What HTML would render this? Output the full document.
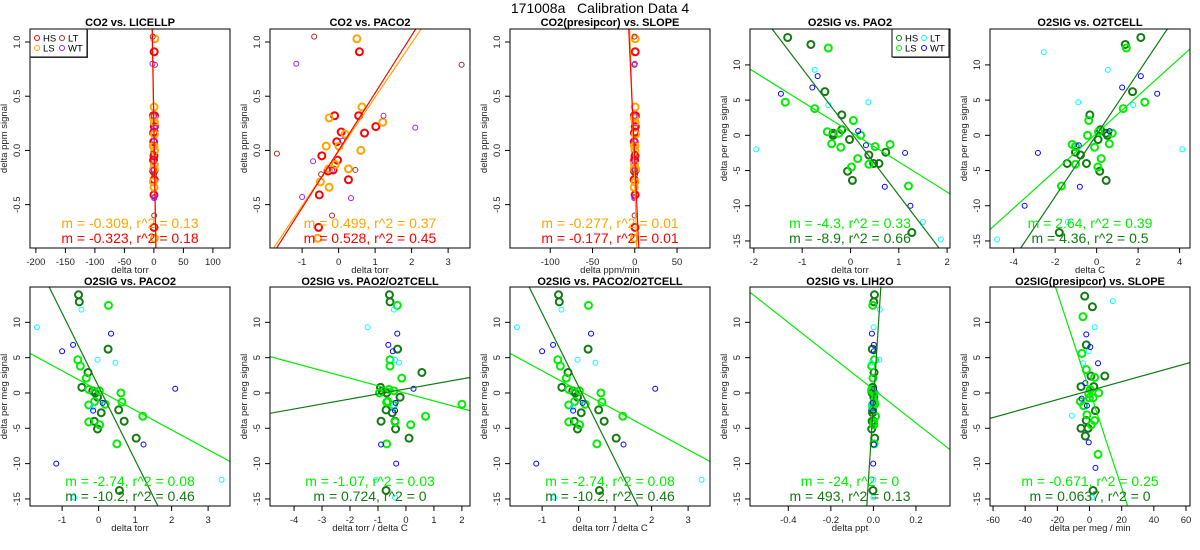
<!DOCTYPE html>
<html><head><meta charset="utf-8"><style>
html,body{margin:0;padding:0;background:#fff;overflow:hidden;width:1200px;height:550px;}
svg{display:block;font-family:"Liberation Sans",sans-serif;}
</style></head><body>
<svg id="chart" width="1200" height="550" viewBox="0 0 1200 550" xmlns="http://www.w3.org/2000/svg">
<rect width="1200" height="550" fill="#fff"/>
<text x="600" y="13" font-size="14" text-anchor="middle" fill="#000" xml:space="preserve">171008a   Calibration Data 4</text>
</svg>
<script>
// ---- CO2 data (shared y values) ----
const co2HSy=[0.91,0.32,0.32,0.17,0.16,0.22,0.08,-0.05,-0.09,-0.27,-0.41,-0.19,-0.18,-0.71];
const co2LSy=[1.03,0.40,0.30,0.15,0.04,0.04,0.00,0.26,-0.17,-0.17,-0.13,-0.29,-0.34,-0.81];
const co2LTy=[1.05,-0.03,-0.22,-0.18,-0.60,0.79];
const co2WTy=[0.80,0.32,0.21,0.09,-0.10,-0.43,-0.44,-0.18];
// panel 1 x (delta torr)
const p1HSx=[0.5,-0.8,1.0,0.3,-0.5,0.8,-0.3,0.2,-0.6,0.4,0.1,-0.4,0.6,0.2];
const p1LSx=[1.5,0.4,-0.6,0.8,-1.0,0.2,1.2,0.9,-0.3,0.5,0.7,-0.8,0.3,0.9];
const p1LTx=[-2.0,-1.2,0.3,-0.5,0.5,1.8];
const p1WTx=[-2.5,0.2,1.2,0.6,-0.4,1.0,0.5,-1.2];
// panel 2 x (delta torr)
const p2HSx=[0.57,-0.11,0.55,0.07,0.71,1.02,-0.05,-0.46,-0.03,0.27,-0.53,-0.29,-0.15,-0.55];
const p2LSx=[0.50,0.64,-0.26,0.18,-0.34,0.01,0.61,1.21,0.27,-0.27,-0.09,-0.50,-0.26,-0.57];
const p2LTx=[-0.67,-1.69,-0.48,0.46,-0.18,3.37];
const p2WTx=[-1.16,1.23,2.10,0.10,-0.70,-1.0,0.34,-0.18];
// panel 3 x (delta ppm/min)
const p3HSx=[0.5,-0.5,0.8,0.2,-0.3,0.6,-0.6,0.3,-0.2,-0.8,0.4,-0.4,0.7,0.3];
const p3LSx=[0.6,0.5,-0.5,0.9,0.3,-0.4,0.2,0.4,-0.6,0.8,-0.2,0.3,-0.7,-0.5];
const p3LTx=[-0.3,0.2,0.4,-0.5,-0.2,-0.4];
const p3WTx=[0.1,-0.3,0.4,0.2,-0.1,-0.4,-0.6,0.3];
// ---- O2 data (shared y values) ----
const o2HSy=[13.9,12.9,6.2,2.9,0.3,0.0,0.8,-0.6,-5.1,-6.4,-2.8,-4.0,-4.0,-2.4,-13.8];
const o2LSy=[12.4,4.7,3.8,0.5,-1.2,-1.7,0.3,2.1,0.0,-1.6,-1.3,-4.5,-3.3,-4.1,-7.2];
const o2LTy=[11.8,9.3,4.3,4.7,-2.0,-12.3,-14.8];
const o2WTy=[5.9,6.8,8.4,0.6,-1.4,-2.5,-7.3,-10.0];
// panel 4 (PAO2)
const p4HSx=[-1.30,-0.82,-0.53,-0.18,-0.36,-0.36,-0.18,-0.02,-0.06,0.04,0.38,0.48,0.59,0.73,1.27];
const p4LSx=[-0.46,-1.35,-0.74,-0.48,-0.39,-0.20,-0.24,0.06,0.21,0.51,0.82,0.02,0.15,0.38,1.20];
const p4LTx=[-2.6,-0.74,-0.46,0.37,-1.95,1.50,1.87];
const p4WTx=[-1.44,-0.79,-0.68,0.16,0.32,1.13,0.71,1.24];
// panel 5 (O2TCELL)
const p5HSx=[2.13,1.38,1.73,-0.33,0.46,0.52,0.18,0.07,0.15,0.46,-0.78,-1.42,-0.49,-1.02,-1.8];
const p5LSx=[1.43,2.32,1.28,0.09,0.61,-0.10,0.75,-0.38,-0.44,-1.02,-1.18,0.06,0.22,-1.02,-1.7];
const p5LTx=[-2.55,0.54,1.76,-0.89,4.13,-1.39,-4.8];
const p5WTx=[2.92,1.23,2.13,0.62,-0.86,-2.83,-0.81,-3.47];
// panel 6 & 8 (PACO2, PACO2/O2TCELL)
const p6HSx=[-0.55,-0.53,0.26,-0.29,-0.16,-0.09,-0.46,-0.03,-0.03,1.03,0.07,0.70,-0.12,0.55,0.57];
const p6LSx=[0.27,-0.57,-0.50,-0.27,-0.11,-0.27,0.02,-0.34,0.61,0.18,0.64,0.03,1.21,-0.27,0.50];
const p6LTx=[-0.47,-1.69,0.46,-0.03,-0.16,3.37,-0.67];
const p6WTx=[-1.0,-0.70,0.34,2.1,0.11,-0.15,1.23,-1.16];
// panel 7 (PAO2/O2TCELL)
const p7HSx=[-0.59,-0.57,-0.30,0.57,-0.85,-0.69,-0.91,-0.21,-0.37,0.11,-0.49,-0.89,-0.39,-0.71,-0.71];
const p7LSx=[-0.31,-0.57,-0.57,-0.61,-0.65,-0.45,-0.43,-0.15,-0.95,2.0,-0.69,0.17,0.70,-0.39,-0.69];
const p7LTx=[-0.43,-1.37,-0.25,-0.39,-0.45,-1.07,-0.39];
const p7WTx=[-0.47,-0.63,-0.31,0.27,-0.37,-0.39,-0.89,-0.35];
// panel 9 (LIH2O)
const p9HSx=[0.005,0.002,-0.005,0.003,-0.008,-0.006,-0.004,0.002,-0.008,0.006,-0.004,-0.006,0.001,-0.004,-0.002];
const p9LSx=[-0.003,0.005,-0.008,-0.008,0.004,-0.004,-0.006,-0.002,0.004,0.006,0.003,0.002,0.01,0.002,0.003];
const p9LTx=[0.03,0.001,-0.01,0.028,-0.012,0.0,0.0];
const p9WTx=[0.002,0.002,-0.007,0.003,-0.003,0.0,0.002,-0.001];
// panel 10 (presipcor vs SLOPE)
const p10HSx=[-3.0,1.8,-2.0,9.5,0.9,2.6,-5.3,3.7,-2.0,-0.9,-5.3,-2.6,2.2];
const p10HSy=[13.7,12.2,6.8,2.4,2.4,0.9,0.9,-2.5,-3.9,-5.0,-5.0,-6.1,-13.8];
const p10LSx=[-4.1,-4.7,-2.0,3.2,0.5,-0.5,5.7,-0.1,2.2,-5.7,-3.7,-1.6,3.2,1.1,5.3];
const p10LSy=[10.8,5.6,3.3,2.2,0.5,-0.1,0.0,-0.7,-0.7,-1.2,-1.8,-3.1,-3.9,-4.5,-8.7];
const p10LTx=[14.5,3.2,-4.1,-0.5,-11,1.6];
const p10LTy=[13.0,9.3,4.2,5.9,-3.2,-14.8];
const p10WTx=[-2.0,0.5,5.3,-2.6,-4.9,-1.6,-0.5,3.7];
const p10WTy=[8.3,6.5,4.2,1.4,-0.8,-1.8,-7.0,-10.6];
// regression fits: intercept, slope (y = a + b x); [LS, HS]
const fitA=[[0.22,0.2],[-0.01,0.0],[-0.32,-0.09],[0.5,0.5],[0.3,0.1],[0.35,0.9],[-0.05,0.57],[0.35,0.9],[0.5,-1.4],[0.37,0.33]];
const fitB=[[-0.32,-0.33],[0.50,0.53],[-0.24,-0.17],[-4.28,-9.0],[2.66,4.4],[-2.79,-10.4],[-1.07,0.71],[-2.79,-10.4],[-23.7,470],[-0.69,0.0635]];
const statText=[["m = -0.309, r^2 = 0.13","m = -0.323, r^2 = 0.18"],["m = 0.499, r^2 = 0.37","m = 0.528, r^2 = 0.45"],["m = -0.277, r^2 = 0.01","m = -0.177, r^2 = 0.01"],["m = -4.3, r^2 = 0.33","m = -8.9, r^2 = 0.66"],["m = 2.64, r^2 = 0.39","m = 4.36, r^2 = 0.5"],["m = -2.74, r^2 = 0.08","m = -10.2, r^2 = 0.46"],["m = -1.07, r^2 = 0.03","m = 0.724, r^2 = 0"],["m = -2.74, r^2 = 0.08","m = -10.2, r^2 = 0.46"],["m = -24, r^2 = 0","m = 493, r^2 = 0.13"],["m = -0.671, r^2 = 0.25","m = 0.0637, r^2 = 0"]];
const titles=["CO2 vs. LICELLP","CO2 vs. PACO2","CO2(presipcor) vs. SLOPE","O2SIG vs. PAO2","O2SIG vs. O2TCELL","O2SIG vs. PACO2","O2SIG vs. PAO2/O2TCELL","O2SIG vs. PACO2/O2TCELL","O2SIG vs. LIH2O","O2SIG(presipcor) vs. SLOPE"];
const xLabels=["delta torr","delta torr","delta ppm/min","delta torr","delta C","delta torr","delta torr / delta C","delta torr / delta C","delta ppt","delta per meg / min"];
const xDomains=[[-210,129],[-1.88,3.6],[-147.6,89],[-2.08,2.06],[-5.14,4.5],[-1.88,3.6],[-4.86,2.29],[-1.88,3.6],[-0.58,0.36],[-61.9,62.5]];
const xTicks=[[-200,-150,-100,-50,0,50,100],[-1,0,1,2,3],[-100,-50,0,50],[-2,-1,0,1,2],[-4,-2,0,2,4],[-1,0,1,2,3],[-4,-3,-2,-1,0,1,2],[-1,0,1,2,3],[-0.4,-0.2,0.0,0.2],[-60,-40,-20,0,20,40,60]];
const xTickLabels=[["-200","-150","-100","-50","0","50","100"],["-1","0","1","2","3"],["-100","-50","0","50"],["-2","-1","0","1","2"],["-4","-2","0","2","4"],["-1","0","1","2","3"],["-4","-3","-2","-1","0","1","2"],["-1","0","1","2","3"],["-0.4","-0.2","0.0","0.2"],["-60","-40","-20","0","20","40","60"]];
const co2YTicks=[-0.5,0.0,0.5,1.0];
const co2YTickLabels=["-0.5","0.0","0.5","1.0"];
const o2YTicks=[-15,-10,-5,0,5,10];
const o2YTickLabels=["-15","-10","-5","0","5","10"];

const NS="http://www.w3.org/2000/svg";
const svg=document.getElementById('chart');
function mk(tag,attrs,parent){const e=document.createElementNS(NS,tag);for(const k in attrs)e.setAttribute(k,attrs[k]);(parent||svg).appendChild(e);return e;}

const co2Col={HS:"#ff0000",LS:"#ffa500",LT:"#a52a2a",WT:"#a020f0"};
const o2Col={HS:"#117a11",LS:"#00ee00",LT:"#00ffff",WT:"#0000ff"};
const panels=[
 {g:[[p1HSx,co2HSy],[p1LSx,co2LSy],[p1LTx,co2LTy],[p1WTx,co2WTy]],co2:true},
 {g:[[p2HSx,co2HSy],[p2LSx,co2LSy],[p2LTx,co2LTy],[p2WTx,co2WTy]],co2:true},
 {g:[[p3HSx,co2HSy],[p3LSx,co2LSy],[p3LTx,co2LTy],[p3WTx,co2WTy]],co2:true},
 {g:[[p4HSx,o2HSy],[p4LSx,o2LSy],[p4LTx,o2LTy],[p4WTx,o2WTy]]},
 {g:[[p5HSx,o2HSy],[p5LSx,o2LSy],[p5LTx,o2LTy],[p5WTx,o2WTy]]},
 {g:[[p6HSx,o2HSy],[p6LSx,o2LSy],[p6LTx,o2LTy],[p6WTx,o2WTy]]},
 {g:[[p7HSx,o2HSy],[p7LSx,o2LSy],[p7LTx,o2LTy],[p7WTx,o2WTy]]},
 {g:[[p6HSx,o2HSy],[p6LSx,o2LSy],[p6LTx,o2LTy],[p6WTx,o2WTy]]},
 {g:[[p9HSx,o2HSy],[p9LSx,o2LSy],[p9LTx,o2LTy],[p9WTx,o2WTy]]},
 {g:[[p10HSx,p10HSy],[p10LSx,p10LSy],[p10LTx,p10LTy],[p10WTx,p10WTy]]}
];
const groups=["HS","LS","LT","WT"];
const defs=mk('defs',{});
panels.forEach((p,i)=>{
  const c=i%5,r=Math.floor(i/5);
  const bx0=30+240*c,bx1=230+240*c;
  const by0=r?287:29,by1=r?506:248;
  const yDom=p.co2?[-0.9,1.12]:(r?[-16.0,15.0]:[-16.0,15.1]);
  const xd=xDomains[i];
  const X=v=>bx0+(v-xd[0])/(xd[1]-xd[0])*(bx1-bx0);
  const Y=v=>by1-(v-yDom[0])/(yDom[1]-yDom[0])*(by1-by0);
  const cols=p.co2?co2Col:o2Col;
  const g=mk('g',{});
  
  
  const cp=mk('clipPath',{id:'cp'+i},defs);
  mk('rect',{x:bx0,y:by0,width:bx1-bx0,height:by1-by0},cp);
  const t=mk('text',{x:(bx0+bx1)/2,y:r?285:26,'font-size':11,'font-weight':'bold','text-anchor':'middle'},g);
  t.textContent=titles[i];
  
  
  const ax=mk('g',{},g);
  
  
  const xt=xTicks[i];
  mk('line',{x1:X(xt[0]),x2:X(xt[xt.length-1]),y1:by1,y2:by1,stroke:'#000'},ax);
  xt.forEach((v,k)=>{
    mk('line',{x1:X(v),x2:X(v),y1:by1,y2:by1+5,stroke:'#000'},ax);
    const tl=mk('text',{x:X(v),y:by1+17,'font-size':9.5,'text-anchor':'middle',fill:'#222'},ax);
    tl.textContent=xTickLabels[i][k];
    
    
  });
  const xl=mk('text',{x:(bx0+bx1)/2,y:by1+25,'font-size':9.5,'text-anchor':'middle',fill:'#222'},g);
  xl.textContent=xLabels[i];
  
  
  const ay=mk('g',{},g);
  
  
  const yt=p.co2?co2YTicks:o2YTicks, ytl=p.co2?co2YTickLabels:o2YTickLabels;
  mk('line',{x1:bx0,x2:bx0,y1:Y(yt[0]),y2:Y(yt[yt.length-1]),stroke:'#000'},ay);
  yt.forEach((v,k)=>{
    mk('line',{x1:bx0-5,x2:bx0,y1:Y(v),y2:Y(v),stroke:'#000'},ay);
    const tl=mk('text',{x:bx0-10,y:Y(v),'font-size':9.5,'text-anchor':'middle',fill:'#222',transform:`rotate(-90 ${bx0-10} ${Y(v)})`},ay);
    tl.textContent=ytl[k];
    
    
  });
  const yx=bx0-23,yy=(by0+by1)/2;
  const yl=mk('text',{x:yx,y:yy,'font-size':9.5,'text-anchor':'middle',fill:'#222',transform:`rotate(-90 ${yx} ${yy})`},g);
  yl.textContent=p.co2?'delta ppm signal':'delta per meg signal';
  
  
  const pg=mk('g',{'clip-path':`url(#cp${i})`},g);
  p.g.forEach((arr,gi)=>{
    const thick=gi<2;
    arr[0].forEach((xv,k)=>{
      const yv=arr[1][k];
      const ci=mk('circle',{cx:X(xv),cy:Y(yv),r:thick?3.5:2.5,fill:'none',stroke:cols[groups[gi]],'stroke-width':thick?2:1},pg);
      
      
    });
  });
  const lineCols=[cols.LS,cols.HS];
  [0,1].forEach(j=>{
    const a=fitA[i][j],b=fitB[i][j];
    const ln=mk('line',{x1:X(xd[0]),y1:Y(a+b*xd[0]),x2:X(xd[1]),y2:Y(a+b*xd[1]),stroke:lineCols[j],'stroke-width':1.2,'clip-path':`url(#cp${i})`},g);
    
    
  });
  [0,1].forEach(j=>{
    const st=mk('text',{x:(bx0+bx1)/2,y:(r?486:228)+j*15,'font-size':14,'text-anchor':'middle',fill:lineCols[j]},g);
    st.textContent=statText[i][j];
    
    
  });
  const bxr=mk('rect',{x:bx0,y:by0,width:bx1-bx0,height:by1-by0,fill:'none',stroke:'#000','stroke-width':1},g);
  
  
  if(i===0||i===3){
    const lx=i===0?bx0:bx1-58, ly=by0;
    const lg=mk('g',{},g);
    
    
    mk('rect',{x:lx+1,y:ly+1,width:57,height:28,fill:'#555'},lg);
    mk('rect',{x:lx,y:ly,width:57,height:28,fill:'#fff',stroke:'#000'},lg);
    const ent=[["HS",0,0],["LT",1,0],["LS",0,1],["WT",1,1]];
    ent.forEach(e=>{
      const ex=lx+7+e[1]*25, ey=ly+9+e[2]*10;
      const eg=mk('g',{},lg);
      
      
      mk('circle',{cx:ex,cy:ey,r:2.5,fill:'none',stroke:cols[e[0]],'stroke-width':1},eg);
      const et=mk('text',{x:ex+6,y:ey+3.5,'font-size':9.5,fill:'#000'},eg);
      et.textContent=e[0];
    });
  }
});
</script>
</body></html>
